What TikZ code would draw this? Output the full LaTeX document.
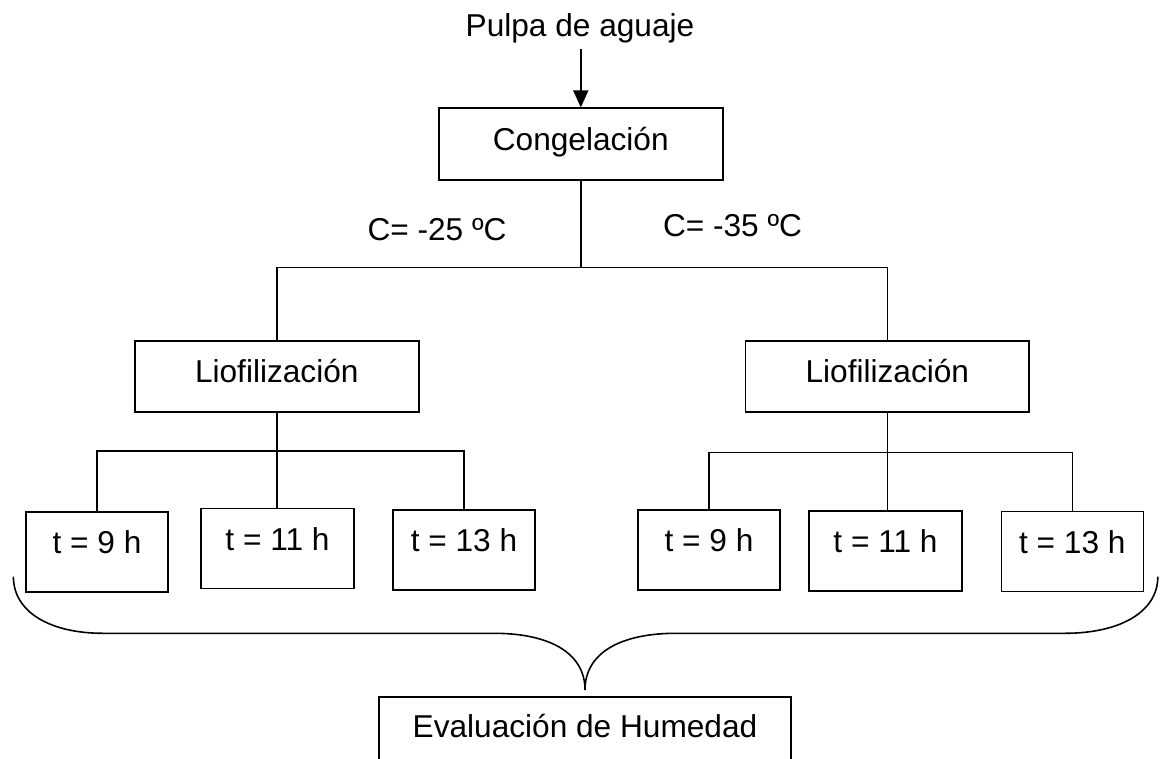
\documentclass[tikz,border=0pt]{standalone}
\usepackage{fontspec}
\setmainfont{Liberation Sans}
\usetikzlibrary{arrows.meta}
\tikzset{
	caja/.style={draw, line width=0.9pt, inner sep=0pt, minimum width=5.68cm, text height=0.84cm, text depth=0.59cm},
	tiempo/.style={draw, line width=0.9pt, inner sep=0pt, text height=0.84cm, text depth=0.76cm},
	linea/.style={line width=0.9pt},
	flecha/.style={line width=0.9pt, -{Triangle[length=3.4mm,width=3mm]}}
}
\begin{document}
\begin{tikzpicture}[x=0.02cm, y=-0.02cm, font=\fontsize{18}{21.6}\selectfont]
	%marco de la figura
	\useasboundingbox (0,0) rectangle (1160,759);
	%materia prima y congelacion
	\node [anchor=base] (pulpa) at (580,36.7) {Pulpa de aguaje};
	\node [caja] (cong) at (580.8,144) {Congelación};
	\draw [flecha] (pulpa.south -| cong.north) -- (cong.north);
	%temperaturas de congelacion
	\node [anchor=base] (c25) at (437,241) {C= -25 ºC};
	\node [anchor=base] (c35) at (732.5,236.3) {C= -35 ºC};
	%las dos liofilizaciones
	\node [caja] (lio1) at (276.8,376.5) {Liofilización};
	\node [caja] (lio2) at (887.3,376.5) {Liofilización};
	\coordinate (ramal) at (580.8,267.7);
	\draw [linea] (cong.south) -- (ramal);
	\draw [linea] (lio1.north) |- (ramal) -| (lio2.north);
	%cajas de tiempo
	\foreach \n/\x/\y/\w/\h in {t1/97/552/2.85/9, t2/277.5/548.5/3.06/11, t3/464/549.8/2.84/13,
		t4/709/550/2.85/9, t5/885.5/551/3.05/11, t6/1072.3/551.7/2.84/13}
		\node [tiempo, minimum width=\w cm] (\n) at (\x,\y) {t = \h\ h};
	%ramas de la izquierda
	\coordinate (barra1) at (276.8,451);
	\draw [linea] (lio1.south) -- (barra1);
	\draw [linea] (t1.north) |- (barra1) -| (t3.north);
	\draw [linea] (barra1) -- (barra1 |- t2.north);
	%ramas de la derecha
	\coordinate (barra2) at (887.3,452.7);
	\draw [linea] (lio2.south) -- (barra2);
	\draw [linea] (t4.north) |- (barra2) -| (t6.north);
	\draw [linea] (barra2) -- (barra2 |- t5.north);
	%llave que junta todo
	\draw [linea] (13.4,576.7) .. controls (13.4,612) and (50,633.3) .. (103,633.3) -- (494,633.3)
		.. controls (548,633.3) and (585,652) .. (585,690)
		.. controls (585,652) and (622,633.3) .. (676,633.3) -- (1065,633.3)
		.. controls (1120,633.3) and (1157.8,612) .. (1157.8,576.7);
	%evaluacion final (cortada abajo)
	\node [tiempo, minimum width=8.24cm, text height=0.82cm, text depth=0.74cm] (eval) at (585,736) {Evaluación de Humedad};
\end{tikzpicture}
\end{document}
